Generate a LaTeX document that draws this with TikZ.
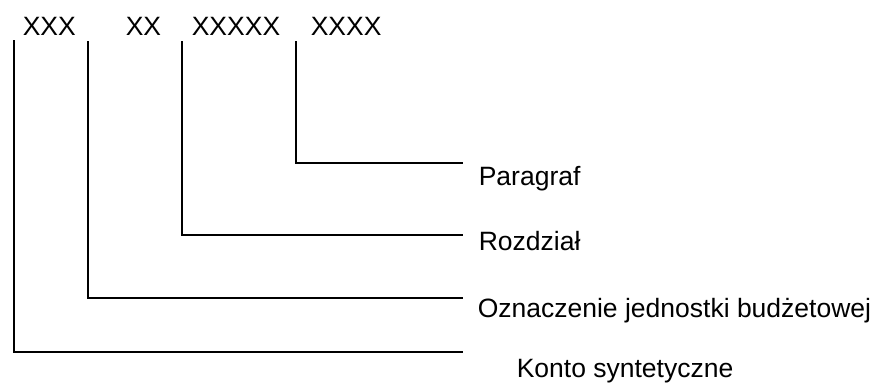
\documentclass[tikz,border=0pt]{standalone}
\usepackage{fontspec}
\setmainfont{Liberation Sans}
\usetikzlibrary{calc}

\begin{document}
\begin{tikzpicture}[x=1pt,y=-1pt,line width=1.6pt,
		code/.style={inner sep=0pt,anchor=base west,font=\fontsize{26.5}{30}\selectfont},
		part/.style={inner sep=0pt,anchor=base west,font=\fontsize{26.5}{30}\selectfont}]
		
		% Frame of the picture
		\useasboundingbox (0,0) rectangle (875,383);
		
		% Digits of the account number
		\node[code] (xxx) at (22,35) {XXX};
		\node[code] (xx) at (125,35) {XX};
		\node[code] (xxxxx) at (191,35) {XXXXX};
		\node[code] (xxxx) at (310,35) {XXXX};
		
		% Tops of the lines
		\coordinate (t1) at (14,40);
		\coordinate (t2) at (88,41);
		\coordinate (t3) at (182,41);
		\coordinate (t4) at (296,41);
		
		% Ends of the lines
		\coordinate (e1) at (463,352);
		\coordinate (e2) at (463,298);
		\coordinate (e3) at (463,235);
		\coordinate (e4) at (463,163);
		
		% Meaning of each part
		\node[part] (paragraf) at (478,185) {Paragraf};
		\node[part] (rozdzial) at (478,250) {Rozdział};
		\node[part] (jednostka) at (477,317) {Oznaczenie jednostki budżetowej};
		\node[part] (konto) at (516,377) {Konto syntetyczne};
		
		% Lines from the digits to the parts
		\draw (t1) |- (e1);
		\draw (t2) |- (e2);
		\draw (t3) |- (e3);
		\draw (t4) |- (e4);
		
	\end{tikzpicture}
\end{document}
